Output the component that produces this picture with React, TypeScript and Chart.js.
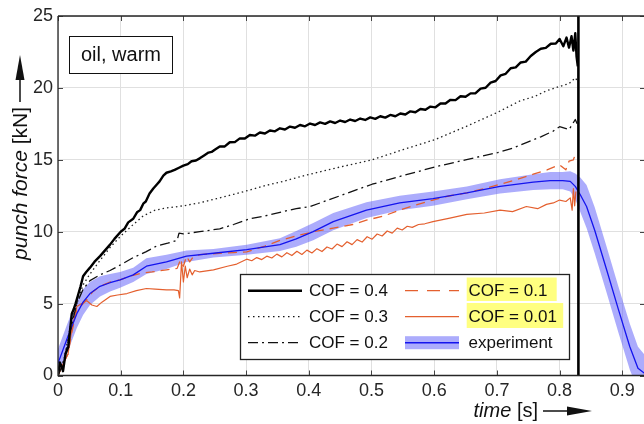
import React, { useEffect, useRef } from 'react';
import { Chart, registerables } from 'chart.js';
Chart.register(...registerables);

const FONT = "'Liberation Sans', Arial, Helvetica, sans-serif";
const TEXT = '#262626';
const ORANGE = '#E4602F';
const BLUE = '#1414EE';
const BAND = 'rgba(90,90,250,0.5)';

const xTickValues = [0, 0.1, 0.2, 0.3, 0.4, 0.5, 0.6, 0.7, 0.8, 0.9];
const yTickValues = [0, 5, 10, 15, 20, 25];

// COF = 0.4 (thick black)
const t04 = [0, 0.003, 0.006, 0.008, 0.012, 0.0165, 0.022, 0.025, 0.028, 0.032, 0.036, 0.04, 0.045, 0.051, 0.058, 0.067, 0.075, 0.083, 0.09, 0.1, 0.106, 0.112, 0.12, 0.126, 0.131, 0.136, 0.14, 0.146, 0.152, 0.158, 0.162, 0.168, 0.173, 0.18, 0.186, 0.193, 0.2, 0.207, 0.213, 0.22, 0.226, 0.233, 0.24, 0.245, 0.25,
  0.258, 0.266, 0.274, 0.282, 0.29, 0.298, 0.306, 0.314, 0.322, 0.33, 0.338, 0.346, 0.354, 0.362, 0.37, 0.378, 0.386, 0.394, 0.402, 0.41, 0.418, 0.426, 0.434, 0.442, 0.45, 0.458, 0.466, 0.474, 0.482, 0.49, 0.498, 0.506, 0.514, 0.522, 0.53, 0.538, 0.546, 0.554, 0.562, 0.57, 0.578, 0.586, 0.594, 0.602, 0.61, 0.618, 0.626, 0.634, 0.642, 0.65, 0.658, 0.666, 0.674, 0.682, 0.69, 0.698, 0.706, 0.714, 0.722, 0.73, 0.738, 0.746, 0.754, 0.762, 0.77, 0.778, 0.786, 0.794, 0.8, 0.806, 0.811, 0.815, 0.819, 0.822, 0.825, 0.827, 0.829];
const f04 = [0, 0.9, 0.6, 0.3, 1.5, 2.0, 4.3, 4.6, 5.0, 5.6, 6.2, 6.9, 7.2, 7.5, 7.9, 8.3, 8.7, 9.1, 9.5, 10.0, 10.2, 10.65, 10.9, 11.35, 11.5, 11.95, 12.1, 12.65, 13.0, 13.3, 13.5, 13.9, 14.1, 14.2, 14.3, 14.45, 14.6, 14.7, 14.9, 14.95, 15.1, 15.3, 15.5, 15.55, 15.7,
  15.92, 15.93, 16.22, 16.23, 16.49, 16.48, 16.72, 16.68, 16.9, 16.83, 17.04, 16.98, 17.19, 17.11, 17.31, 17.23, 17.42, 17.33, 17.52, 17.42, 17.6, 17.5, 17.67, 17.56, 17.73, 17.63, 17.8, 17.7, 17.87, 17.77, 17.95, 17.85, 18.03, 17.93, 18.12, 18.03, 18.22, 18.15, 18.37, 18.31, 18.53, 18.48, 18.7, 18.65, 18.92, 18.91, 19.17, 19.15, 19.42, 19.38, 19.62, 19.63, 19.95, 20.01, 20.37, 20.48, 20.87, 20.98, 21.37, 21.43, 21.77, 21.83, 22.22, 22.5, 22.72, 22.78, 23.07, 23.08, 23.4, 22.9, 23.5, 22.8, 23.6, 22.6, 23.8, 22.2, 21.5];

// COF = 0.3 (dotted black)
const t03 = [0, 0.01, 0.02, 0.03, 0.04, 0.05, 0.067, 0.083, 0.1, 0.12, 0.136, 0.155, 0.173, 0.2, 0.225, 0.253, 0.28, 0.306, 0.33, 0.359, 0.38, 0.402, 0.45, 0.501, 0.55, 0.601, 0.65, 0.701, 0.737, 0.76, 0.779, 0.8, 0.815, 0.825, 0.828];
const f03 = [0, 1.2, 3.5, 5.0, 6.3, 7.0, 8.0, 8.9, 9.7, 10.5, 11.1, 11.5, 11.65, 11.8, 12.0, 12.3, 12.6, 12.9, 13.2, 13.5, 13.75, 14.0, 14.5, 15.0, 15.7, 16.4, 17.3, 18.3, 19.1, 19.4, 19.8, 20.1, 20.3, 20.7, 20.5];

// COF = 0.2 (dash-dot black)
const t02 = [0, 0.01, 0.02, 0.03, 0.04, 0.051, 0.067, 0.083, 0.1, 0.12, 0.14, 0.157, 0.175, 0.19, 0.193, 0.2, 0.226, 0.258, 0.28, 0.306, 0.33, 0.359, 0.38, 0.402, 0.45, 0.501, 0.55, 0.601, 0.65, 0.701, 0.725, 0.747, 0.77, 0.79, 0.8, 0.815, 0.825, 0.828];
const f02 = [0, 1.0, 3.2, 5.0, 6.0, 6.6, 7.0, 7.3, 7.7, 8.2, 8.6, 9.0, 9.2, 9.4, 9.9, 9.85, 10.0, 10.2, 10.5, 10.9, 11.1, 11.4, 11.6, 11.75, 12.5, 13.3, 13.9, 14.5, 15.0, 15.5, 15.8, 16.2, 16.6, 17.0, 17.3, 17.1, 17.8, 17.5];

// COF = 0.1 (orange dashed)
const t01 = [0, 0.008, 0.016, 0.022, 0.03, 0.038, 0.046, 0.055, 0.067, 0.083, 0.099, 0.115, 0.131, 0.15, 0.173, 0.19, 0.195, 0.2, 0.205, 0.21, 0.215, 0.226, 0.258, 0.28, 0.301, 0.33, 0.354, 0.38, 0.407, 0.439, 0.47, 0.492, 0.52, 0.545, 0.57, 0.598, 0.625, 0.652, 0.68, 0.705, 0.73, 0.758, 0.78, 0.8, 0.81, 0.815, 0.822, 0.826];
const f01 = [0, 0.8, 1.5, 3.0, 4.6, 4.9, 5.3, 5.8, 6.2, 6.5, 6.65, 6.9, 7.1, 7.2, 7.35, 7.45, 8.0, 7.6, 8.3, 7.9, 8.2, 8.4, 8.5, 8.55, 8.6, 9.0, 9.4, 9.7, 10.0, 10.25, 10.5, 10.8, 11.1, 11.5, 11.85, 12.2, 12.5, 12.7, 13.0, 13.3, 13.6, 14.0, 14.3, 14.65, 14.3, 14.9, 15.0, 15.5];

// COF = 0.01 (orange solid)
const t001 = [0, 0.008, 0.016, 0.022, 0.03, 0.038, 0.046, 0.054, 0.062, 0.07, 0.083, 0.095, 0.11, 0.125, 0.141, 0.155, 0.173, 0.185, 0.192, 0.194, 0.197, 0.2, 0.203, 0.206, 0.21, 0.214, 0.218, 0.226, 0.248, 0.27, 0.285,
  0.301, 0.309, 0.317, 0.325, 0.333, 0.341, 0.349, 0.357, 0.365, 0.373, 0.381, 0.389, 0.397, 0.405, 0.413, 0.421, 0.429, 0.437, 0.445, 0.453, 0.461, 0.469, 0.477, 0.485, 0.493, 0.501, 0.509, 0.517, 0.525, 0.533, 0.541, 0.549, 0.557, 0.565, 0.575, 0.585,
  0.598, 0.625, 0.652, 0.68, 0.705, 0.725, 0.747, 0.765, 0.779, 0.79, 0.8, 0.81, 0.817, 0.82, 0.822, 0.824, 0.826];
const f001 = [0, 0.8, 1.5, 3.2, 4.8, 5.0, 5.2, 4.9, 4.8, 5.1, 5.5, 5.6, 5.7, 5.9, 6.05, 6.0, 5.95, 5.95, 5.9, 5.4, 7.9, 6.5, 7.6, 6.8, 7.4, 7.0, 7.3, 7.2, 7.35, 7.6, 7.75,
  8.09, 7.98, 8.2, 8.06, 8.3, 8.17, 8.44, 8.25, 8.54, 8.34, 8.64, 8.42, 8.72, 8.52, 8.82, 8.62, 8.94, 8.8, 9.14, 8.96, 9.3, 9.1, 9.45, 9.28, 9.65, 9.48, 9.84, 9.7, 10.05, 9.9, 10.25, 10.12, 10.38, 10.3, 10.5, 10.55,
  10.7, 10.95, 11.2, 11.3, 11.5, 11.4, 11.75, 11.6, 11.9, 12.0, 12.2, 12.1, 12.35, 11.5, 13.0, 11.8, 12.8];

// Experiment (blue line with scatter band)
const tExp = [0, 0.014, 0.03, 0.04, 0.051, 0.067, 0.083, 0.099, 0.12, 0.141, 0.173, 0.205, 0.248, 0.301, 0.354, 0.38, 0.407, 0.439, 0.492, 0.545, 0.598, 0.652, 0.705, 0.758, 0.785, 0.805, 0.817, 0.825, 0.833, 0.843, 0.856, 0.875, 0.894, 0.912, 0.925, 0.94];
const fExp = [0.85, 2.5, 4.3, 5.1, 5.7, 6.2, 6.45, 6.65, 7.0, 7.6, 7.9, 8.3, 8.5, 8.75, 9.1, 9.5, 10.0, 10.7, 11.5, 12.0, 12.3, 12.7, 13.15, 13.45, 13.55, 13.55, 13.5, 13.15, 12.57, 11.75, 10.1, 7.35, 4.56, 2.0, 0.5, 0.0];
const bandHalf = [1.0, 1.0, 1.0, 0.9, 0.8, 0.7, 0.6, 0.55, 0.5, 0.55, 0.5, 0.4, 0.3, 0.35, 0.45, 0.55, 0.6, 0.6, 0.55, 0.5, 0.5, 0.45, 0.5, 0.55, 0.6, 0.6, 0.7, 0.9, 1.2, 1.5, 1.6, 1.6, 1.6, 1.6, 1.5, 1.2];

// End-of-stroke vertical line
const tCut = [0.83, 0.83];
const fCut = [0, 25];

const mk = (t: number[], f: number[]) => t.map((x, i) => ({ x, y: f[i] }));

function drawArrowH(ctx: CanvasRenderingContext2D, x0: number, x1: number, y: number) {
  ctx.beginPath();
  ctx.moveTo(x0, y);
  ctx.lineTo(x1 - 22, y);
  ctx.stroke();
  ctx.beginPath();
  ctx.moveTo(x1, y);
  ctx.lineTo(x1 - 25, y - 4.5);
  ctx.lineTo(x1 - 25, y + 4.5);
  ctx.closePath();
  ctx.fill();
}

function drawArrowV(ctx: CanvasRenderingContext2D, x: number, y0: number, y1: number) {
  ctx.beginPath();
  ctx.moveTo(x, y0);
  ctx.lineTo(x, y1 + 22);
  ctx.stroke();
  ctx.beginPath();
  ctx.moveTo(x, y1);
  ctx.lineTo(x - 4.5, y1 + 25);
  ctx.lineTo(x + 4.5, y1 + 25);
  ctx.closePath();
  ctx.fill();
}

const decor = {
  id: 'decor',
  afterDraw(chart: any) {
    const ctx: CanvasRenderingContext2D = chart.ctx;
    const ca = chart.chartArea;
    const xs = chart.scales.x;
    const ys = chart.scales.y;
    ctx.save();

    // inward tick marks
    ctx.strokeStyle = '#444';
    ctx.lineWidth = 1;
    ctx.setLineDash([]);
    ctx.beginPath();
    for (const v of xTickValues) {
      const px = Math.round(xs.getPixelForValue(v)) + 0.5;
      ctx.moveTo(px, ca.bottom); ctx.lineTo(px, ca.bottom - 5);
      ctx.moveTo(px, ca.top); ctx.lineTo(px, ca.top + 5);
    }
    for (const v of yTickValues) {
      const py = Math.round(ys.getPixelForValue(v)) + 0.5;
      ctx.moveTo(ca.left, py); ctx.lineTo(ca.left + 5, py);
      ctx.moveTo(ca.right, py); ctx.lineTo(ca.right - 6, py);
    }
    ctx.stroke();

    // frame
    ctx.strokeStyle = TEXT;
    ctx.lineWidth = 1.3;
    ctx.beginPath();
    ctx.moveTo(ca.left, ca.top); ctx.lineTo(ca.right, ca.top);
    ctx.moveTo(ca.left, ca.top); ctx.lineTo(ca.left, ca.bottom); ctx.lineTo(ca.right, ca.bottom);
    ctx.stroke();

    // "oil, warm" box
    ctx.fillStyle = '#fff';
    ctx.fillRect(69.5, 36.5, 103, 37);
    ctx.strokeStyle = '#111';
    ctx.lineWidth = 1;
    ctx.strokeRect(69.5, 36.5, 103, 37);
    ctx.fillStyle = '#111';
    ctx.font = `20px ${FONT}`;
    ctx.textAlign = 'center';
    ctx.textBaseline = 'middle';
    ctx.fillText('oil, warm', 121, 55.5);

    // legend box
    const lx = 240.5, ly = 274.5, lw = 329, lh = 85;
    ctx.fillStyle = '#fff';
    ctx.fillRect(lx, ly, lw, lh);
    ctx.strokeStyle = '#222';
    ctx.lineWidth = 1.3;
    ctx.strokeRect(lx, ly, lw, lh);

    const rows = [290.7, 316.7, 342.7];
    const c1a = 248, c1b = 302, c1t = 309;
    const c2a = 405, c2b = 459, c2t = 468.5;

    // highlights
    ctx.fillStyle = '#FFFF80';
    ctx.fillRect(466.7, 277.5, 90, 23.5);
    ctx.fillRect(466.7, 303, 96.5, 25);

    const seg = (a: number, b: number, y: number, color: string, w: number, dash: number[]) => {
      ctx.strokeStyle = color;
      ctx.lineWidth = w;
      ctx.setLineDash(dash);
      ctx.beginPath();
      ctx.moveTo(a, y); ctx.lineTo(b, y);
      ctx.stroke();
      ctx.setLineDash([]);
    };
    seg(c1a, c1b, rows[0], '#000', 2.5, []);
    seg(c1a, c1b, rows[1], '#111', 1.3, [1.5, 3.5]);
    seg(c1a, c1b, rows[2], '#111', 1.3, [10, 4, 2, 4]);
    seg(c2a, c2b, rows[0], ORANGE, 1.3, [13, 9]);
    seg(c2a, c2b, rows[1], ORANGE, 1.3, []);
    ctx.fillStyle = BAND;
    ctx.fillRect(c2a, rows[2] - 6.5, c2b - c2a, 13);
    seg(c2a, c2b, rows[2], BLUE, 1.4, []);

    ctx.fillStyle = '#111';
    ctx.font = `17px ${FONT}`;
    ctx.textAlign = 'left';
    ctx.textBaseline = 'middle';
    ctx.fillText('COF = 0.4', c1t, rows[0] + 0.5);
    ctx.fillText('COF = 0.3', c1t, rows[1] + 0.5);
    ctx.fillText('COF = 0.2', c1t, rows[2] + 0.5);
    ctx.fillText('COF = 0.1', c2t, rows[0] + 0.5);
    ctx.fillText('COF = 0.01', c2t, rows[1] + 0.5);
    ctx.fillText('experiment', c2t, rows[2] + 0.5);

    // x axis title with arrow
    ctx.fillStyle = '#111';
    ctx.strokeStyle = '#111';
    ctx.lineWidth = 1.5;
    ctx.textBaseline = 'middle';
    ctx.font = `20px ${FONT}`;
    const sW = ctx.measureText(' [s]').width;
    ctx.textAlign = 'right';
    ctx.fillText(' [s]', 538, 411);
    ctx.font = `italic 20px ${FONT}`;
    ctx.fillText('time', 538 - sW, 411);
    drawArrowH(ctx, 543, 592, 411);

    // y axis title with arrow
    ctx.save();
    ctx.translate(27, 107);
    ctx.rotate(-Math.PI / 2);
    ctx.textBaseline = 'alphabetic';
    ctx.textAlign = 'right';
    ctx.font = `21px ${FONT}`;
    const kW = ctx.measureText(' [kN]').width;
    ctx.fillText(' [kN]', 0, 0);
    ctx.font = `italic 21px ${FONT}`;
    ctx.fillText('punch force', -kW, 0);
    ctx.restore();
    drawArrowV(ctx, 20, 102, 55);

    ctx.restore();
  },
};

export default function App() {
  const ref = useRef<HTMLCanvasElement>(null);
  useEffect(() => {
    document.body.style.margin = '0';
    const canvas = ref.current!;
    const line = (extra: any) => ({
      pointRadius: 0,
      pointHoverRadius: 0,
      tension: 0,
      fill: false,
      borderJoinStyle: 'round',
      ...extra,
    });
    const chart = new Chart(canvas, {
      type: 'line',
      data: {
        datasets: [
          line({ label: 'cut', data: mk(tCut, fCut), borderColor: '#000', borderWidth: 2.6, order: 0 }),
          line({ label: 'COF = 0.4', data: mk(t04, f04), borderColor: '#000', borderWidth: 2.4, order: 1 }),
          line({ label: 'COF = 0.3', data: mk(t03, f03), borderColor: '#222', borderWidth: 1.3, borderDash: [1.5, 3], order: 2 }),
          line({ label: 'COF = 0.2', data: mk(t02, f02), borderColor: '#111', borderWidth: 1.3, borderDash: [10, 4, 2, 4], order: 3 }),
          line({ label: 'experiment', data: mk(tExp, fExp), borderColor: BLUE, borderWidth: 1.3, order: 4 }),
          line({ label: 'COF = 0.1', data: mk(t01, f01), borderColor: ORANGE, borderWidth: 1.3, borderDash: [9, 6], order: 5 }),
          line({ label: 'COF = 0.01', data: mk(t001, f001), borderColor: ORANGE, borderWidth: 1.2, order: 6 }),
          line({ label: 'band upper', data: mk(tExp, fExp.map((v, i) => v + bandHalf[i])), borderColor: 'rgba(0,0,0,0)', backgroundColor: BAND, fill: '+1', order: 7 }),
          line({ label: 'band lower', data: mk(tExp, fExp.map((v, i) => v - bandHalf[i])), borderColor: 'rgba(0,0,0,0)', order: 8 }),
        ],
      },
      options: {
        animation: false,
        responsive: false,
        devicePixelRatio: 1,
        events: [],
        layout: { padding: { top: 16, left: 0, right: 0, bottom: 0 } },
        plugins: { legend: { display: false }, tooltip: { enabled: false } },
        scales: {
          x: {
            type: 'linear',
            min: 0,
            max: 0.9378,
            afterFit: (s: any) => { s.height = 48.5; },
            grid: { color: '#e0e0e0', lineWidth: 1, drawTicks: false },
            border: { display: false },
            ticks: {
              stepSize: 0.1,
              includeBounds: false,
              autoSkip: false,
              maxRotation: 0,
              padding: 5,
              color: TEXT,
              font: { family: FONT, size: 18 },
              callback: (v: any) => (Number(v) === 0 ? '0' : Number(v).toFixed(1)),
            },
          },
          y: {
            type: 'linear',
            min: 0,
            max: 25,
            afterFit: (s: any) => { s.width = 58; },
            grid: { color: '#e0e0e0', lineWidth: 1, drawTicks: false },
            border: { display: false },
            ticks: {
              stepSize: 5,
              padding: 5,
              color: TEXT,
              font: { family: FONT, size: 18 },
              callback: (v: any) => String(v),
            },
          },
        },
      } as any,
      plugins: [decor],
    });
    return () => chart.destroy();
  }, []);
  return (
    <div style={{ position: 'absolute', left: 0, top: 0, width: 644, height: 424, overflow: 'hidden', background: '#fff' }}>
      <canvas ref={ref} width={646} height={424} style={{ display: 'block', width: 646, height: 424 }} />
    </div>
  );
}
